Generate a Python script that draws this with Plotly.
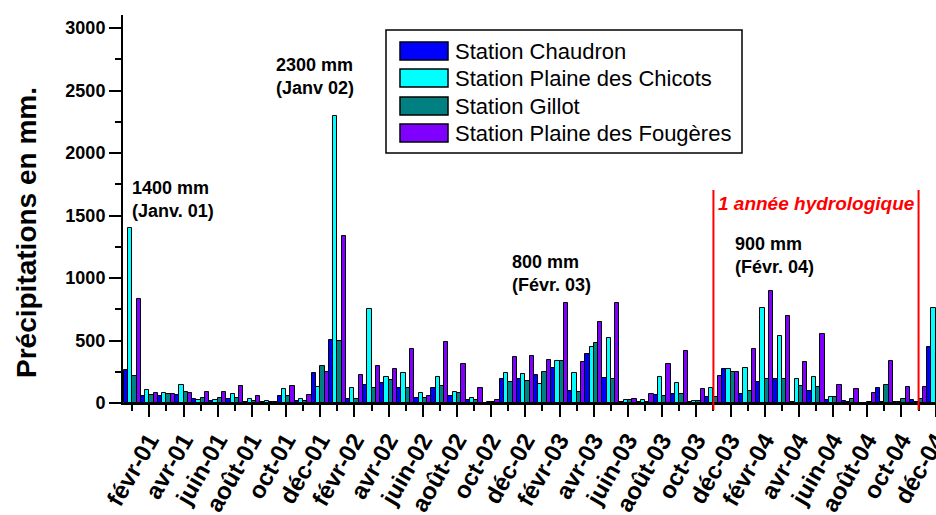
import plotly.graph_objects as go

# Monthly rainfall (mm) at four stations, January 2001 - December 2004
MONTHS = ["janv", "févr", "mars", "avr", "mai", "juin",
          "juil", "août", "sept", "oct", "nov", "déc"]
YEARS = ["01", "02", "03", "04"]
CATEGORIES = [f"{m}-{y}" for y in YEARS for m in MONTHS]

SERIES_NAMES = ["Station Chaudron", "Station Plaine des Chicots",
                "Station Gillot", "Station Plaine des Fougères"]
SERIES_COLORS = ["#0000FF", "#00FFFF", "#008080", "#8000FF"]

chaudron = [
    265, 53, 59, 61, 32, 13, 35, 11, 5, 59, 13, 240,
    506, 32, 145, 162, 122, 41, 120, 58, 21, 3, 189, 189,
    227, 280, 99, 395, 203, 5, 5, 64, 72, 5, 48, 272,
    72, 168, 194, 8, 98, 21, 13, 3, 117, 5, 28, 445,
]
plaine_chicots = [
    1400, 107, 83, 144, 28, 24, 69, 35, 15, 115, 32, 126,
    2300, 118, 750, 211, 244, 82, 208, 90, 37, 5, 243, 232,
    152, 333, 243, 445, 523, 27, 21, 208, 157, 15, 117, 272,
    280, 762, 536, 190, 211, 48, 5, 3, 5, 5, 5, 760,
]
gillot = [
    219, 63, 72, 90, 43, 38, 37, 20, 9, 59, 15, 293,
    500, 29, 122, 186, 123, 40, 133, 80, 21, 8, 168, 176,
    248, 333, 88, 477, 195, 21, 8, 59, 72, 18, 45, 245,
    96, 189, 195, 135, 128, 48, 35, 12, 147, 32, 33, 300,
]
plaine_fougeres = [
    835, 80, 73, 84, 89, 89, 139, 59, 12, 135, 66, 252,
    1335, 222, 298, 275, 435, 60, 490, 315, 120, 25, 365, 379,
    347, 800, 325, 651, 800, 32, 75, 309, 419, 115, 218, 245,
    434, 900, 699, 330, 549, 147, 112, 77, 339, 125, 127, 500,
]
SERIES_VALUES = [chaudron, plaine_chicots, gillot, plaine_fougeres]

# Hydrological year bounds (month labels) and callouts
HYDRO_START, HYDRO_END = "nov-03", "nov-04"
CALLOUTS = [
    ("1400 mm", "(Janv. 01)"),
    ("2300 mm", "(Janv 02)"),
    ("800 mm", "(Févr. 03)"),
    ("900 mm", "(Févr. 04)"),
]

FONT = "Liberation Sans, Arial, sans-serif"
W, H = 936, 515
ML, MR, MT, MB = 123, 0, 15, 112
PW, PH = W - ML - MR, H - MT - MB
Y_MAX = 3104


def px(xp):
    return (xp - ML) / PW


def py(yp):
    return (H - MB - yp) / PH


xpos = list(range(len(CATEGORIES)))

fig = go.Figure()
for name, color, vals in zip(SERIES_NAMES, SERIES_COLORS, SERIES_VALUES):
    fig.add_trace(go.Bar(
        x=xpos, y=vals, name=name,
        marker=dict(color=color, line=dict(color="black", width=1)),
        showlegend=False,
    ))

label_idx = [i for i in xpos if i % 2 == 1]
minor_idx = [i for i in xpos if i % 2 == 0]

fig.update_layout(
    width=W, height=H,
    margin=dict(l=ML, r=MR, t=MT, b=MB, pad=0, autoexpand=False),
    paper_bgcolor="white", plot_bgcolor="white",
    barmode="group", bargap=0, bargroupgap=0,
    font=dict(family=FONT, color="black"),
    xaxis=dict(
        range=[-0.54, 47.02], automargin=False,
        tickmode="array", tickvals=label_idx,
        ticktext=[CATEGORIES[i] for i in label_idx],
        tickangle=-60, ticklabeloverflow="allow",
        tickfont=dict(family=FONT, size=24, color="black", weight="bold"),
        ticks="outside", ticklen=12, tickwidth=2, tickcolor="black",
        minor=dict(tickmode="array", tickvals=minor_idx, ticks="outside",
                   ticklen=6, tickwidth=2, tickcolor="black"),
        showline=True, linecolor="black", linewidth=2,
        showgrid=False, zeroline=False,
    ),
    yaxis=dict(
        range=[0, Y_MAX], automargin=False,
        tickmode="array", tickvals=list(range(0, 3001, 500)),
        tickfont=dict(family=FONT, size=18, color="black", weight="bold"),
        ticks="outside", ticklen=12, tickwidth=2, tickcolor="black",
        minor=dict(dtick=250, tick0=0, ticks="outside",
                   ticklen=6, tickwidth=2, tickcolor="black"),
        showline=True, linecolor="black", linewidth=2,
        showgrid=False, zeroline=False,
    ),
)

# Y axis title
fig.add_annotation(
    text="<b>Précipitations en mm.</b>", xref="paper", yref="paper",
    x=px(26), y=py(233), xanchor="center", yanchor="middle",
    textangle=-90, showarrow=False,
    font=dict(family=FONT, size=28, color="black"),
)

# Hydrological year markers
for lab in (HYDRO_START, HYDRO_END):
    xi = CATEGORIES.index(lab)
    fig.add_shape(type="line", xref="x", yref="paper",
                  x0=xi, x1=xi, y0=py(410), y1=1704 / Y_MAX,
                  line=dict(color="#FF0000", width=2), layer="above")
fig.add_annotation(
    text="<b><i>1 année hydrologique</i></b>", xref="x", yref="y",
    x=(CATEGORIES.index(HYDRO_START) + CATEGORIES.index(HYDRO_END)) / 2,
    y=1600, showarrow=False,
    font=dict(family=FONT, size=19, color="#FF0000"),
)

# Peak callouts
callout_pos = [(-0.12, 1628), (8.32, 2612), (22.12, 1036), (35.16, 1184)]
for (l1, l2), (cx, cy) in zip(CALLOUTS, callout_pos):
    fig.add_annotation(
        text=f"<b>{l1}<br>{l2}</b>", xref="x", yref="y", x=cx, y=cy,
        xanchor="left", yanchor="middle", align="left", showarrow=False,
        font=dict(family=FONT, size=18, color="black"),
    )

# Legend box
fig.add_shape(type="rect", xref="paper", yref="paper",
              x0=px(386), x1=px(742), y0=py(153), y1=py(30),
              line=dict(color="black", width=1.5), fillcolor="white",
              layer="above")
row_centers = [51, 78, 106, 133]
for name, color, rc in zip(SERIES_NAMES, SERIES_COLORS, row_centers):
    fig.add_shape(type="rect", xref="paper", yref="paper",
                  x0=px(400), x1=px(448), y0=py(rc + 9), y1=py(rc - 9),
                  line=dict(color="black", width=1.5), fillcolor=color,
                  layer="above")
    fig.add_annotation(
        text=name, xref="paper", yref="paper", x=px(453), y=py(rc),
        xanchor="left", yanchor="middle", showarrow=False,
        font=dict(family=FONT, size=22, color="black"),
    )

fig.write_html("out.html")
